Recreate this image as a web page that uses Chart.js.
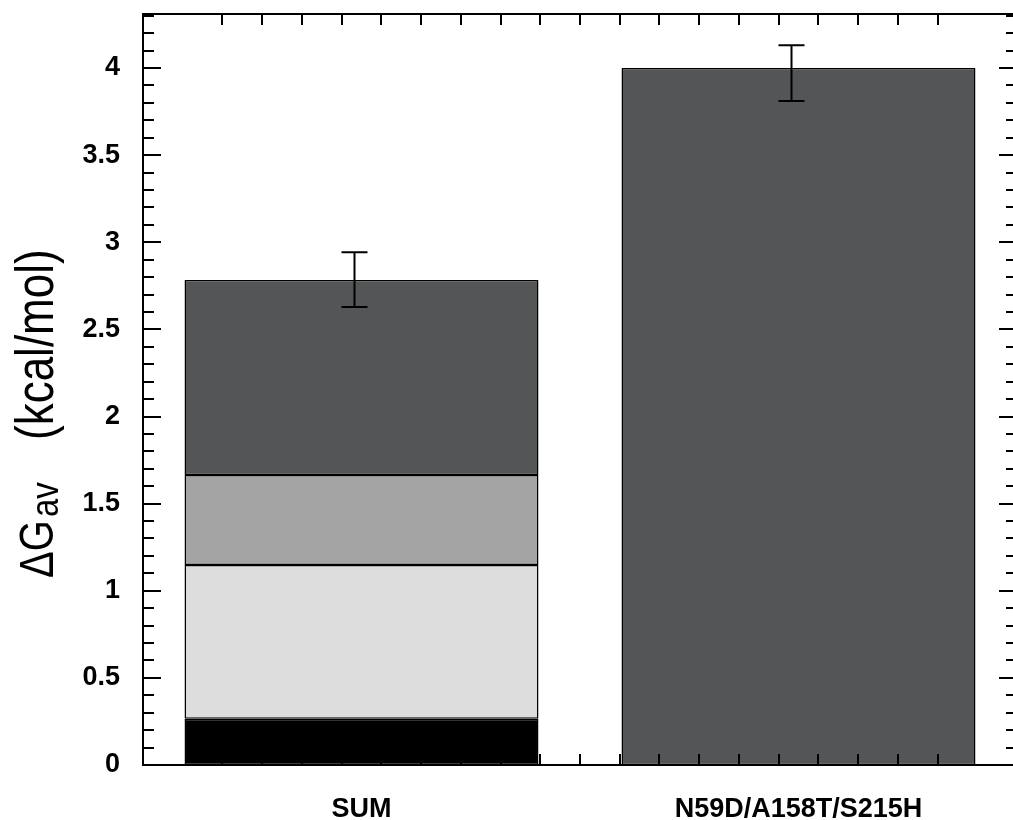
<!DOCTYPE html>
<html>
<head>
<meta charset="utf-8">
<script src="https://cdn.jsdelivr.net/npm/chart.js@4"></script>
<style>
  html, body { margin: 0; padding: 0; background: #fff; overflow: hidden; }
  #wrap { position: relative; width: 1030px; height: 820px; }
</style>
</head>
<body>
<div id="wrap"><canvas id="chartDeltaG"></canvas></div>
<script>
// data
const categories = ['SUM', 'N59D/A158T/S215H'];
const blackPart = [0.265, null];
const lightPart = [0.883, null];
const midPart   = [0.516, null];
const darkPart  = [1.119, 4.0];
const errUp   = [0.16, 0.13];
const errDown = [0.155, 0.19];
const yMax = 4.31;
const yStep = 0.5;
const yMinorStep = 0.1;
const xMinorMax = 20;

const FONT = "'Liberation Sans', Arial, Helvetica, sans-serif";

/* frame, inward ticks, error bars and y title */
const framePlugin = {
  id: 'frame',
  afterDatasetsDraw(chart) {
    const ctx = chart.ctx;
    const a = chart.chartArea;
    const y = chart.scales.y;
    const x = chart.scales.x;
    const xm = chart.scales.xMinor;

    ctx.save();
    ctx.strokeStyle = '#000';

    // error bars
    ctx.lineWidth = 2;
    categories.forEach((c, i) => {
      let total = 0;
      [blackPart, lightPart, midPart, darkPart].forEach(arr => { total += arr[i] || 0; });
      const cx = x.getPixelForValue(i) - 7;
      const top = y.getPixelForValue(total + errUp[i]);
      const bot = y.getPixelForValue(total - errDown[i]);
      ctx.beginPath();
      ctx.moveTo(cx, top); ctx.lineTo(cx, bot);
      ctx.moveTo(cx - 13, top); ctx.lineTo(cx + 13, top);
      ctx.moveTo(cx - 13, bot); ctx.lineTo(cx + 13, bot);
      ctx.stroke();
    });

    // y ticks, left and right
    ctx.beginPath();
    for (let k = 0; k * yMinorStep <= yMax + 1e-9; k++) {
      const py = Math.round(y.getPixelForValue(k * yMinorStep));
      const len = (k % 5 === 0) ? 18 : 11;
      ctx.moveTo(a.left, py); ctx.lineTo(a.left + len, py);
      ctx.moveTo(a.right, py); ctx.lineTo(a.right - len, py);
    }
    // x minor ticks, top and bottom
    for (let k = 1; k < xMinorMax; k++) {
      const px = Math.round(xm.getPixelForValue(k));
      ctx.moveTo(px, a.top); ctx.lineTo(px, a.top + 11);
      ctx.moveTo(px, a.bottom); ctx.lineTo(px, a.bottom - 11);
    }
    ctx.stroke();

    // frame
    ctx.strokeRect(a.left, a.top, a.right - a.left, a.bottom - a.top);

    // y title with subscript (glyphs a bit taller than wide, as in the figure)
    ctx.fillStyle = '#000';
    ctx.translate(53, 578);
    ctx.rotate(-Math.PI / 2);
    ctx.scale(1, 1.2);
    ctx.textAlign = 'left';
    ctx.textBaseline = 'alphabetic';
    ctx.font = '40px ' + FONT;
    ctx.fillText('\u0394G', 0, 0);
    ctx.font = '33px ' + FONT;
    ctx.fillText('av', 61, 4);
    ctx.font = '44px ' + FONT;
    ctx.fillText('(kcal/mol)', 138, 0);
    ctx.restore();
  }
};

const canvas = document.getElementById('chartDeltaG');
new Chart(canvas, {
  type: 'bar',
  data: {
    labels: categories,
    datasets: [
      { data: blackPart, backgroundColor: '#000000' },
      { data: lightPart, backgroundColor: '#dcdddc' },
      { data: midPart,   backgroundColor: '#a4a4a4' },
      { data: darkPart,  backgroundColor: '#545557' }
    ].map(d => Object.assign(d, {
      borderColor: '#000',
      borderWidth: 1.5,
      borderSkipped: false,
      categoryPercentage: 1,
      barPercentage: 0.81
    }))
  },
  options: {
    responsive: true,
    maintainAspectRatio: false,
    animation: false,
    layout: { padding: { top: 14, right: 13, left: 0, bottom: 0 } },
    plugins: {
      legend: { display: false },
      tooltip: { enabled: false }
    },
    scales: {
      x: {
        stacked: true,
        grid: { display: false, drawTicks: false },
        border: { display: false },
        ticks: {
          padding: 28,
          color: '#000',
          font: { family: FONT, size: 27, weight: 'bold' }
        },
        afterFit(scale) {
          scale.height = 55;
          scale.paddingLeft = 0; scale.paddingRight = 0;
        }
      },
      xMinor: {
        type: 'linear',
        display: false,
        min: 0,
        max: xMinorMax
      },
      y: {
        stacked: true,
        min: 0,
        max: yMax,
        grid: { display: false, drawTicks: false },
        border: { display: false },
        ticks: {
          stepSize: yStep,
          includeBounds: false,
          padding: 23,
          color: '#000',
          font: { family: FONT, size: 27, weight: 'bold' },
          callback: v => String(Number(v.toFixed(1)))
        },
        afterFit(scale) {
          scale.width = 143;
          scale.paddingTop = 0; scale.paddingBottom = 0;
        }
      }
    }
  },
  plugins: [framePlugin]
});
</script>
</body>
</html>
